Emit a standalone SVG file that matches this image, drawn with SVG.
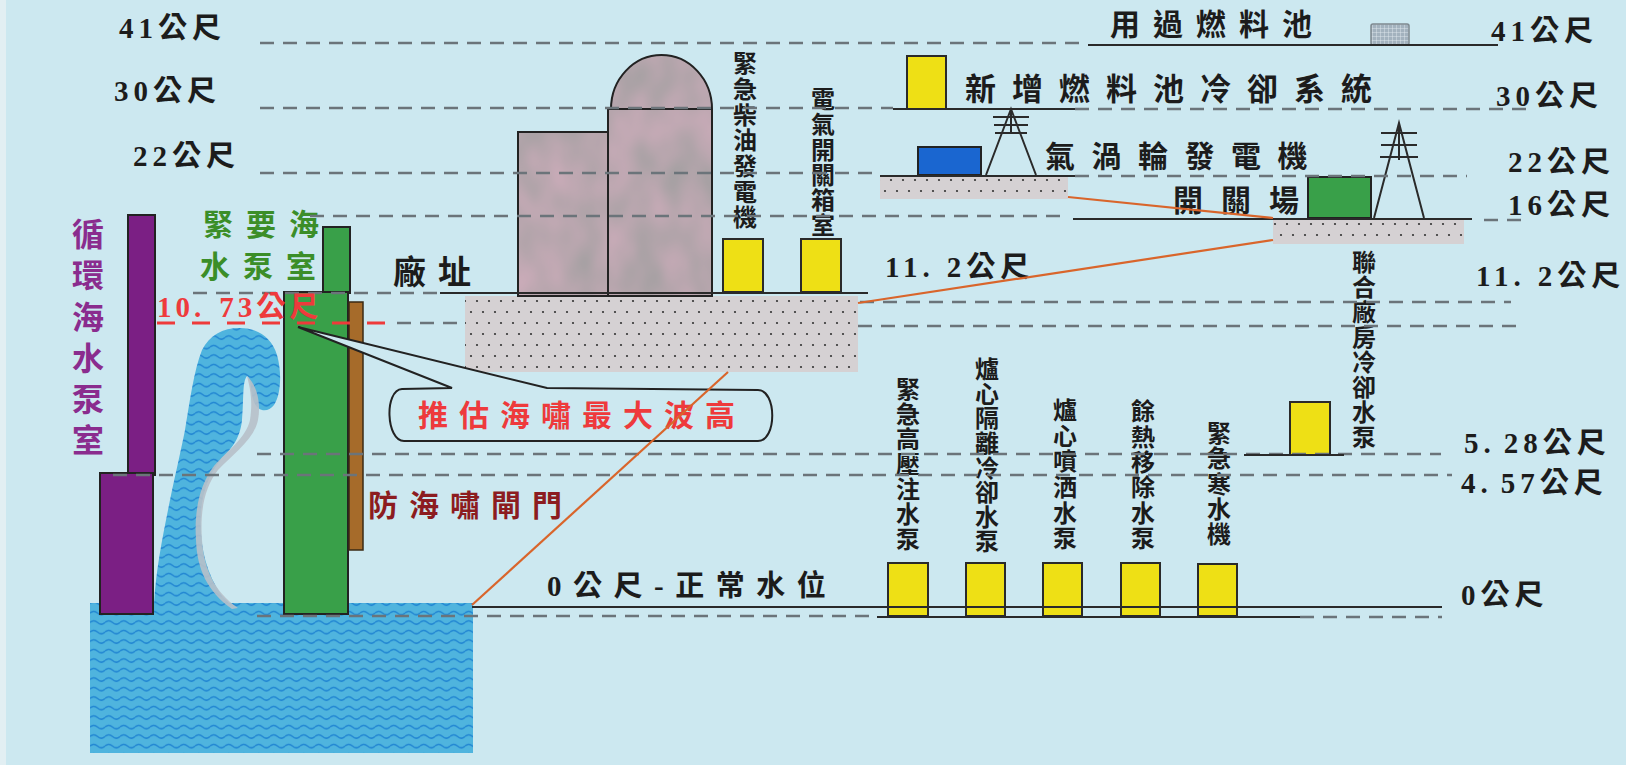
<svg xmlns="http://www.w3.org/2000/svg" width="1626" height="765" viewBox="0 0 1626 765">
<defs>
<style>
.dash{stroke:#6b747a;stroke-width:2.6;stroke-dasharray:14 9;fill:none}
.solid{stroke:#2a2a2a;stroke-width:2;fill:none}
.lbl{font-family:'Liberation Serif','Noto Sans CJK TC',serif;font-size:29px;font-weight:700;letter-spacing:5px;fill:#1c1c1c}
.cj{font-family:'Noto Sans CJK TC','Noto Sans CJK SC',sans-serif;font-weight:700;font-size:31px;fill:#1c1c1c}
.vt{font-family:'Noto Sans CJK TC','Noto Sans CJK SC',sans-serif;font-weight:700;font-size:24px;fill:#1c1c1c;writing-mode:vertical-rl}
.yb{fill:#eee015;stroke:#2a2a2a;stroke-width:2}
.dotg{fill:url(#dots)}
.conn{stroke:#d9652b;stroke-width:2.2;fill:none}
.edge{stroke:#222;stroke-width:2}
.red{fill:#ee3a3c}
</style>
<pattern id="dots" width="12" height="22" patternUnits="userSpaceOnUse">
<rect width="12" height="22" fill="#d5d1d3"/>
<circle cx="3" cy="4" r="1.1" fill="#333"/>
<circle cx="9" cy="15" r="1.1" fill="#333"/>
</pattern>
<pattern id="sea" width="15" height="9.5" patternUnits="userSpaceOnUse">
<rect width="15" height="9.5" fill="#4fb4de"/>
<path d="M0,5 Q3.75,1.5 7.5,5 T15,5" stroke="#1f84d2" stroke-width="1.4" fill="none"/>
</pattern>
<pattern id="pool" width="4" height="4" patternUnits="userSpaceOnUse">
<rect width="4" height="4" fill="#a3b2be"/>
<path d="M0,0H4M0,0V4" stroke="#e6eef3" stroke-width="0.8"/>
</pattern>
<filter id="marble" x="0" y="0" width="1" height="1" color-interpolation-filters="sRGB">
<feTurbulence type="fractalNoise" baseFrequency="0.03 0.02" numOctaves="2" seed="7" result="n"/>
<feColorMatrix in="n" type="matrix" values="0.20 0 0 0 0.62  0.06 0 0 0 0.62  0.12 0 0 0 0.62  0 0 0 0 1" result="c"/>
<feComposite in="c" in2="SourceGraphic" operator="in"/>
</filter>
</defs>

<!-- page -->
<rect width="1626" height="765" fill="#cce8f0"/>
<rect width="6" height="765" fill="#e2eff3"/>

<!-- sea and tsunami -->
<g id="sea-water">
<rect x="90" y="603" width="383" height="150" fill="url(#sea)"/>
</g>
<g id="tsunami-wave">
<path d="M154,604 C156,570 162,540 168,510 C174,480 180,455 185,430 C190,400 194,370 202,350 C210,335 222,328 240,328 C258,328 272,338 277,355 C282,372 281,395 274,405 C268,413 258,412 254,402 C250,392 252,380 247,376 C242,382 244,400 242,420 C240,440 230,450 222,458 C210,472 203,490 201,510 C199,540 204,570 222,596 L230,604 Z" fill="url(#sea)"/>
<path d="M247,376 C254,382 262,398 258,420 C254,440 232,455 218,470 C204,488 200,512 202,540 C204,570 215,592 238,608 L232,609 C208,592 197,570 196,540 C194,510 200,484 214,466 C228,450 246,438 250,420 C253,400 250,388 247,376 Z" fill="#b7c0c9" opacity="0.9"/>
</g>

<!-- circulating sea water pump room -->
<g id="circ-pump-room">
<rect x="128" y="215" width="27" height="260" fill="#7b1f84" class="edge"/>
<rect x="100" y="473" width="53" height="141" fill="#7b1f84" class="edge"/>
<text class="vt" x="88" y="218" style="font-size:32px;letter-spacing:9.2px;fill:#8a2c8e">循環海水泵室</text>
</g>

<!-- essential sea water pump room -->
<g id="esw-pump-room">
<rect x="323" y="227" width="27" height="66" fill="#39a049" class="edge"/>
<rect x="284" y="292" width="64" height="322" fill="#39a049" class="edge"/>
<text class="cj" style="font-size:30px;fill:#3b8e28;letter-spacing:13px" x="203" y="235">緊要海</text>
<text class="cj" style="font-size:30px;fill:#3b8e28;letter-spacing:13px" x="200" y="277">水泵室</text>
</g>

<!-- tsunami gate -->
<g id="tsunami-gate">
<rect x="349" y="302" width="14" height="248" fill="#a66b2a" stroke="#3a2a14" stroke-width="1.5"/>
<text class="cj" style="font-size:30px;fill:#8c1c20;letter-spacing:11px" x="368" y="516">防海嘯閘門</text>
</g>

<!-- plant site at 11.2 m -->
<g id="plant-site">
<rect x="465" y="296" width="393" height="76" class="dotg"/>
<g filter="url(#marble)">
<rect x="518" y="132" width="90" height="164" fill="#bbb"/>
<path d="M608,296 V109 H611 A50.5,54 0 0 1 712,109 V296 Z" fill="#bbb"/>
</g>
<rect x="518" y="132" width="90" height="164" fill="none" class="edge"/>
<path d="M608,296 V109 H611 A50.5,54 0 0 1 712,109 V296 Z" fill="none" class="edge"/>
<path d="M611,109 H712" class="edge" fill="none"/>
<text class="cj" style="font-size:33px;letter-spacing:12px" x="393" y="284">廠址</text>
</g>

<g id="diesel-generator">
<rect x="723" y="239" width="40" height="53" class="yb"/>
<text class="vt" x="745" y="51" style="letter-spacing:1.7px">緊急柴油發電機</text>
</g>

<g id="switchgear-room">
<rect x="801" y="239" width="40" height="53" class="yb"/>
<text class="vt" x="823" y="87" style="letter-spacing:1.2px">電氣開關箱室</text>
</g>

<!-- spent fuel pool at 41 m -->
<g id="spent-fuel-pool">
<rect x="1371" y="24" width="38" height="21" rx="2" fill="url(#pool)" stroke="#7d888f" stroke-width="1.5"/>
<text class="cj" style="font-size:30px;letter-spacing:13px" x="1110" y="35">用過燃料池</text>
</g>

<!-- added fuel pool cooling at 30 m -->
<g id="pool-cooling">
<rect x="907" y="56" width="39" height="53" class="yb"/>
<text class="cj" style="letter-spacing:16px" x="965" y="100">新增燃料池冷卻系統</text>
</g>

<!-- gas turbine generator at 22 m -->
<g id="gas-turbine">
<rect x="880" y="177" width="188" height="22" class="dotg"/>
<rect x="918" y="147" width="63" height="28" fill="#1a66d0" class="edge"/>
<path d="M986,175 L1011,109 L1036,175 M1011,109 V134 M993,117 H1029 M994,125 H1028 M995,133 H1027" class="solid"/>
<text class="cj" style="font-size:30px;letter-spacing:16.5px" x="1045" y="167">氣渦輪發電機</text>
</g>

<!-- switchyard at 16 m -->
<g id="switchyard">
<rect x="1273" y="220" width="191" height="24" class="dotg"/>
<rect x="1308" y="177" width="63" height="41" fill="#39a049" class="edge"/>
<path d="M1374,218 L1399,123 L1424,218 M1399,123 V160 M1381,133 H1417 M1381,145 H1417 M1380,157 H1418" class="solid"/>
<text class="cj" style="font-size:30px;letter-spacing:18px" x="1173" y="211">開關場</text>
</g>

<!-- combined building cooling water pump at 5.28 m -->
<g id="combined-cooling-pump">
<rect x="1290" y="402" width="40" height="53" class="yb"/>
<text class="vt" x="1364" y="250" style="letter-spacing:1px">聯合廠房冷卻水泵</text>
</g>

<!-- pumps at 0 m -->
<g id="hpci-pump">
<rect x="888" y="563" width="40" height="53" class="yb"/>
<text class="vt" x="908" y="377" style="letter-spacing:1px">緊急高壓注水泵</text>
</g>
<g id="rcic-pump">
<rect x="966" y="563" width="39" height="53" class="yb"/>
<text class="vt" x="987" y="357" style="letter-spacing:0.6px">爐心隔離冷卻水泵</text>
</g>
<g id="core-spray-pump">
<rect x="1043" y="563" width="39" height="53" class="yb"/>
<text class="vt" x="1065" y="398" style="letter-spacing:1.6px">爐心噴洒水泵</text>
</g>
<g id="rhr-pump">
<rect x="1121" y="563" width="39" height="53" class="yb"/>
<text class="vt" x="1143" y="399" style="letter-spacing:1.4px">餘熱移除水泵</text>
</g>
<g id="chiller">
<rect x="1198" y="564" width="39" height="52" class="yb"/>
<text class="vt" x="1219" y="421" style="letter-spacing:1.2px">緊急寒水機</text>
</g>

<!-- elevation lines -->
<g id="levels">
<path class="dash" d="M260,43 H1088"/>
<path class="solid" d="M1088,45 H1498"/>
<path class="dash" d="M260,108 H893"/>
<path class="solid" d="M893,109 H1075"/>
<path class="dash" d="M1075,109 H1530"/>
<path class="dash" d="M260,173 H880"/>
<path class="solid" d="M880,176 H1075"/>
<path class="dash" d="M1075,176 H1467"/>
<path class="dash" d="M310,216 H1066"/>
<path class="solid" d="M1073,219 H1472"/>
<path class="dash" d="M1484,220 H1522"/>
<path class="dash" d="M193,293 H440"/>
<path class="solid" d="M440,293 H868"/>
<path class="dash" d="M860,302 H1511"/>
<path d="M157,323 H395" stroke="#ee3a3a" stroke-width="3" stroke-dasharray="18 17" fill="none"/>
<path class="dash" d="M397,323 H465"/>
<path class="dash" d="M858,326 H1522"/>
<path class="dash" d="M257,454 H1441"/>
<path class="solid" d="M1244,455 H1344"/>
<path class="dash" d="M113,475 H1452"/>
<path class="solid" d="M472,607 H1442"/>
<path class="dash" d="M257,616 H877"/>
<path class="solid" d="M877,617 H1300"/>
<path class="dash" d="M1300,617 H1442"/>
</g>

<!-- elevation labels -->
<g id="level-labels">
<text class="lbl" x="119" y="38">41公尺</text>
<text class="lbl" x="114" y="101">30公尺</text>
<text class="lbl" x="133" y="166">22公尺</text>
<text class="lbl" x="1491" y="41">41公尺</text>
<text class="lbl" x="1496" y="106">30公尺</text>
<text class="lbl" x="1508" y="172">22公尺</text>
<text class="lbl" x="1508" y="215">16公尺</text>
<text class="lbl" x="885" y="277">11.<tspan dx="12">2公尺</tspan></text>
<text class="lbl" x="1476" y="286">11.<tspan dx="12">2公尺</tspan></text>
<text class="lbl" x="1464" y="453">5.<tspan dx="8">28公尺</tspan></text>
<text class="lbl" x="1461" y="493">4.<tspan dx="8">57公尺</tspan></text>
<text class="lbl" x="1461" y="605">0公尺</text>
<text class="lbl" x="547" y="596" style="letter-spacing:11.5px">0公尺-正常水位</text>
<text class="lbl red" x="157" y="317" style="letter-spacing:4px">10.<tspan dx="14">73公尺</tspan></text>
</g>

<!-- callout -->
<g id="max-wave-callout">
<path d="M452,388 L402,389 C384,390 386,441 404,441 L758,441 C777,441 777,390 758,390 L547,388 L298,327 Z" fill="#cce8f0" stroke="#222" stroke-width="2"/>
<text class="cj red" style="font-size:30px;letter-spacing:11px" x="418" y="426">推估海嘯最大波高</text>
</g>

<!-- links between ground levels -->
<g id="connectors">
<path class="conn" d="M1068,197 L1273,218"/>
<path class="conn" d="M1273,240 L858,303"/>
<path class="conn" d="M728,372 L472,605"/>
</g>
</svg>
